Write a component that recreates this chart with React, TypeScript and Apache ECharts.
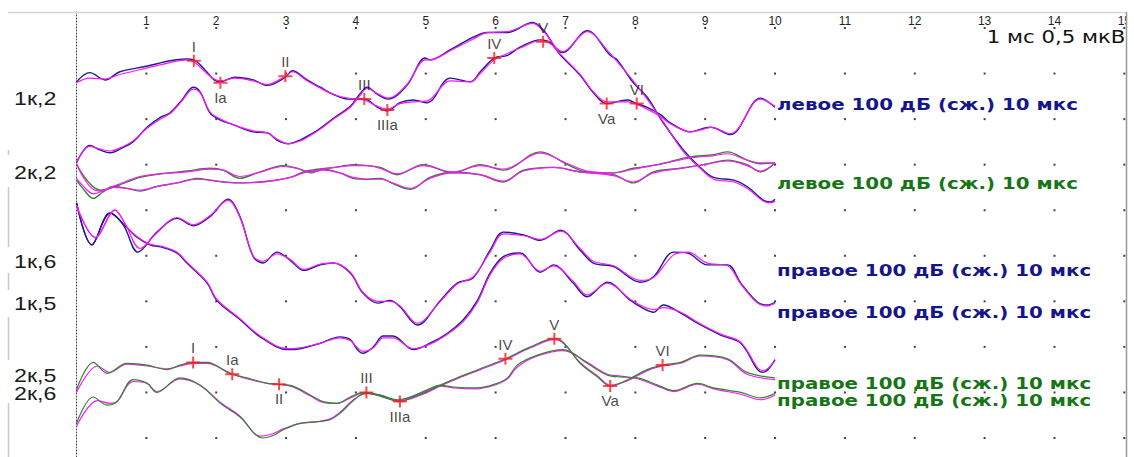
import React, { useEffect, useRef } from 'react';
import * as echarts from 'echarts';

// ---- axis / grid values ----
const msTicks = [1, 2, 3, 4, 5, 6, 7, 8, 9, 10, 11, 12, 13, 14, 15];
const uvRows = [0, 0.5, 1, 1.5, 2, 2.5, 3, 3.5, 4, 4.5];
const Y_MIN = -0.2085;
const Y_MAX = 4.6756;

// ---- traces: [ms, µV] ----
const topANavy = [[0,3.91],[0.19,4.01],[0.41,3.93],[0.62,4.02],[1.00,4.08],[1.34,4.14],[1.57,4.16],[1.68,4.15],[1.84,4.04],[1.97,3.93],[2.06,3.91],[2.27,3.96],[2.53,3.93],[2.73,3.87],[2.99,3.96],[3.09,4.03],[3.30,3.93],[3.49,3.85],[3.68,3.77],[3.88,3.72],[4.12,3.72],[4.31,3.63],[4.45,3.59],[4.63,3.68],[4.82,3.71],[5.02,3.68],[5.35,3.95],[5.64,3.91],[5.78,4.02],[5.98,4.17],[6.17,4.20],[6.35,4.29],[6.64,4.37],[6.78,4.34],[6.93,4.20],[7.21,3.98],[7.40,3.79],[7.59,3.67],[7.89,3.71],[8.02,3.67],[8.17,3.63],[8.36,3.55],[8.50,3.46],[8.79,3.36],[8.98,3.40],[9.08,3.41],[9.36,3.33],[9.79,3.73],[10.0,3.63]];
const topAMag = [[0,3.90],[0.19,3.95],[0.41,3.94],[0.62,3.99],[1.00,4.06],[1.34,4.12],[1.57,4.15],[1.68,4.13],[1.84,4.02],[1.97,3.94],[2.06,3.92],[2.27,3.95],[2.53,3.92],[2.73,3.88],[2.99,3.97],[3.09,4.02],[3.30,3.92],[3.49,3.84],[3.68,3.77],[3.88,3.73],[4.12,3.71],[4.31,3.64],[4.45,3.61],[4.63,3.67],[4.82,3.69],[5.02,3.70],[5.35,3.92],[5.64,3.91],[5.78,4.00],[5.98,4.15],[6.17,4.22],[6.35,4.28],[6.64,4.36],[6.78,4.33],[6.93,4.21],[7.21,3.99],[7.40,3.80],[7.59,3.69],[7.89,3.69],[8.02,3.66],[8.17,3.61],[8.36,3.53],[8.50,3.45],[8.79,3.36],[8.98,3.39],[9.08,3.41],[9.36,3.34],[9.79,3.72],[10.0,3.64]];
const topBNavy = [[0,3.02],[0.19,3.21],[0.34,3.16],[0.48,3.13],[0.67,3.19],[0.81,3.25],[1.01,3.41],[1.20,3.52],[1.34,3.57],[1.51,3.71],[1.67,3.85],[1.77,3.80],[1.91,3.57],[2.06,3.49],[2.24,3.44],[2.53,3.36],[2.73,3.35],[2.87,3.27],[3.03,3.23],[3.20,3.27],[3.39,3.35],[3.49,3.40],[3.68,3.51],[3.92,3.64],[4.06,3.78],[4.16,3.85],[4.31,3.77],[4.46,3.72],[4.73,3.87],[4.99,4.17],[5.06,4.15],[5.35,4.26],[5.68,4.40],[5.88,4.45],[6.17,4.45],[6.53,4.56],[6.68,4.48],[6.96,4.23],[7.31,4.47],[7.64,4.20],[7.74,4.15],[7.97,3.90],[8.17,3.74],[8.40,3.46],[8.69,3.16],[8.93,2.97],[9.12,2.86],[9.41,2.83],[9.60,2.76],[9.83,2.61],[9.93,2.59],[10.0,2.62]];
const topBMag = [[0,3.03],[0.19,3.20],[0.34,3.17],[0.48,3.15],[0.67,3.20],[0.81,3.26],[1.01,3.40],[1.20,3.50],[1.34,3.56],[1.51,3.70],[1.67,3.83],[1.77,3.79],[1.91,3.58],[2.06,3.50],[2.24,3.44],[2.53,3.37],[2.73,3.35],[2.87,3.28],[3.03,3.23],[3.20,3.26],[3.39,3.34],[3.49,3.39],[3.68,3.50],[3.92,3.63],[4.06,3.76],[4.16,3.84],[4.31,3.78],[4.46,3.73],[4.73,3.88],[4.99,4.15],[5.06,4.15],[5.35,4.25],[5.68,4.38],[5.88,4.45],[6.17,4.46],[6.53,4.55],[6.68,4.47],[6.96,4.24],[7.31,4.46],[7.64,4.22],[7.74,4.13],[7.97,3.92],[8.17,3.72],[8.40,3.47],[8.69,3.14],[8.93,2.96],[9.12,2.84],[9.41,2.81],[9.60,2.74],[9.83,2.60],[9.93,2.58],[10.0,2.60]];

const grnCGreen = [[0,3.01],[0.09,2.89],[0.22,2.77],[0.34,2.72],[0.48,2.74],[0.69,2.80],[0.91,2.86],[1.20,2.90],[1.58,2.93],[1.91,2.96],[2.10,2.94],[2.34,2.85],[2.59,2.91],[2.96,2.99],[3.16,2.96],[3.35,2.91],[3.53,2.95],[3.77,2.91],[3.96,2.85],[4.16,2.84],[4.35,2.85],[4.56,2.78],[4.78,2.73],[5.06,2.86],[5.39,2.92],[5.78,2.89],[6.11,2.81],[6.40,2.94],[6.83,2.97],[7.21,2.92],[7.69,2.89],[7.97,2.80],[8.26,2.92],[8.65,2.96],[8.98,3.00],[9.32,3.05],[9.60,3.00],[9.79,2.92],[10.0,3.02]];
const grnCMag = [[0,3.01],[0.09,2.87],[0.22,2.74],[0.34,2.71],[0.48,2.75],[0.69,2.81],[0.91,2.87],[1.20,2.90],[1.58,2.92],[1.91,2.95],[2.10,2.94],[2.34,2.87],[2.59,2.91],[2.96,2.98],[3.16,2.96],[3.35,2.92],[3.53,2.94],[3.77,2.91],[3.96,2.86],[4.16,2.84],[4.35,2.84],[4.56,2.79],[4.78,2.74],[5.06,2.85],[5.39,2.91],[5.78,2.89],[6.11,2.82],[6.40,2.93],[6.83,2.97],[7.21,2.92],[7.69,2.88],[7.97,2.81],[8.26,2.91],[8.65,2.96],[8.98,3.00],[9.32,3.04],[9.60,2.99],[9.79,2.93],[10.0,3.02]];
const grnDGreen = [[0,2.83],[0.09,2.74],[0.24,2.63],[0.38,2.70],[0.52,2.76],[0.72,2.74],[0.91,2.71],[1.15,2.76],[1.44,2.80],[1.73,2.85],[1.91,2.83],[2.10,2.81],[2.39,2.80],[2.77,2.82],[3.06,2.86],[3.25,2.92],[3.45,2.95],[3.70,2.97],[3.96,3.00],[4.16,2.99],[4.35,2.97],[4.59,2.89],[4.96,3.00],[5.39,2.91],[5.78,3.00],[6.11,2.94],[6.64,3.14],[7.03,3.00],[7.31,2.92],[7.69,2.91],[7.97,2.96],[8.32,3.00],[8.75,3.08],[9.12,3.11],[9.32,3.14],[9.60,3.05],[9.79,3.01],[10.0,3.02]];
const grnDMag = [[0,2.85],[0.09,2.77],[0.24,2.68],[0.38,2.71],[0.52,2.75],[0.72,2.74],[0.91,2.72],[1.15,2.76],[1.44,2.80],[1.73,2.84],[1.91,2.83],[2.10,2.81],[2.39,2.80],[2.77,2.82],[3.06,2.86],[3.25,2.91],[3.45,2.94],[3.70,2.97],[3.96,2.99],[4.16,2.99],[4.35,2.96],[4.59,2.90],[4.96,2.99],[5.39,2.92],[5.78,2.99],[6.11,2.95],[6.64,3.13],[7.03,3.01],[7.31,2.93],[7.69,2.91],[7.97,2.95],[8.32,3.00],[8.75,3.07],[9.12,3.10],[9.32,3.12],[9.60,3.05],[9.79,3.02],[10.0,3.02]];

const midGNavy = [[0,2.58],[0.22,2.12],[0.48,2.47],[0.67,2.34],[0.88,2.04],[1.15,2.26],[1.44,2.41],[1.67,2.33],[1.91,2.43],[2.17,2.62],[2.34,2.43],[2.53,1.99],[2.67,1.92],[2.87,2.04],[3.06,1.95],[3.25,1.84],[3.49,1.90],[3.68,1.92],[3.92,1.81],[4.10,1.59],[4.31,1.48],[4.49,1.51],[4.63,1.44],[4.88,1.24],[5.21,1.51],[5.45,1.70],[5.68,1.76],[5.92,2.06],[6.11,2.26],[6.40,2.23],[6.64,2.17],[6.93,2.28],[7.21,2.06],[7.40,1.92],[7.69,1.88],[8.07,1.71],[8.26,1.77],[8.55,2.04],[8.75,2.03],[9.03,1.90],[9.32,1.90],[9.51,1.70],[9.75,1.49],[9.89,1.46],[10.0,1.49]];
const midGMag = [[0,2.55],[0.27,2.20],[0.55,2.50],[0.69,2.36],[0.91,2.08],[1.15,2.25],[1.44,2.42],[1.67,2.34],[1.91,2.44],[2.17,2.61],[2.34,2.42],[2.53,2.00],[2.67,1.94],[2.87,2.02],[3.06,1.96],[3.25,1.85],[3.49,1.91],[3.68,1.92],[3.92,1.82],[4.10,1.60],[4.31,1.50],[4.49,1.50],[4.63,1.45],[4.88,1.26],[5.21,1.50],[5.45,1.69],[5.68,1.77],[5.92,2.04],[6.11,2.24],[6.40,2.22],[6.64,2.18],[6.93,2.27],[7.21,2.08],[7.40,1.94],[7.69,1.89],[8.07,1.73],[8.26,1.76],[8.55,2.01],[8.75,2.04],[9.03,1.92],[9.32,1.89],[9.51,1.69],[9.75,1.48],[9.89,1.45],[10.0,1.48]];
const midHNavy = [[0,2.58],[0.22,2.12],[0.48,2.47],[0.72,2.31],[0.87,2.20],[1.05,2.12],[1.24,2.09],[1.44,2.03],[1.58,1.92],[1.87,1.70],[2.01,1.51],[2.34,1.30],[2.63,1.11],[3.02,0.97],[3.20,0.98],[3.49,1.04],[3.77,1.11],[3.92,1.08],[4.02,0.97],[4.10,0.93],[4.25,1.00],[4.39,1.12],[4.53,1.12],[4.82,0.97],[5.06,1.04],[5.31,1.15],[5.54,1.30],[5.74,1.51],[5.92,1.81],[6.11,1.99],[6.35,2.03],[6.64,1.82],[6.83,1.90],[7.11,1.70],[7.31,1.55],[7.60,1.71],[7.93,1.51],[8.12,1.42],[8.26,1.38],[8.40,1.46],[8.65,1.37],[8.89,1.26],[9.22,1.13],[9.51,1.04],[9.75,0.75],[9.83,0.72],[10.0,0.86]];
const midHMag = [[0,2.55],[0.27,2.20],[0.55,2.50],[0.74,2.30],[0.87,2.21],[1.05,2.13],[1.24,2.10],[1.44,2.04],[1.58,1.93],[1.87,1.71],[2.01,1.52],[2.34,1.31],[2.63,1.12],[3.02,0.98],[3.20,0.99],[3.49,1.04],[3.77,1.10],[3.92,1.07],[4.02,0.99],[4.10,0.95],[4.25,0.99],[4.39,1.10],[4.53,1.10],[4.82,0.98],[5.06,1.03],[5.31,1.14],[5.54,1.28],[5.74,1.49],[5.92,1.79],[6.11,1.97],[6.35,2.02],[6.64,1.83],[6.83,1.89],[7.11,1.72],[7.31,1.57],[7.60,1.70],[7.93,1.52],[8.12,1.44],[8.26,1.41],[8.40,1.43],[8.65,1.38],[8.89,1.27],[9.22,1.14],[9.51,1.05],[9.75,0.77],[9.83,0.74],[10.0,0.85]];

const botEGreen = [[0,0.53],[0.24,0.83],[0.44,0.71],[0.72,0.82],[1.01,0.80],[1.30,0.75],[1.48,0.80],[1.67,0.83],[1.87,0.83],[2.16,0.72],[2.23,0.70],[2.44,0.66],[2.73,0.60],[2.90,0.59],[3.10,0.57],[3.35,0.47],[3.53,0.40],[3.73,0.38],[3.92,0.45],[4.13,0.50],[4.35,0.46],[4.63,0.40],[4.78,0.44],[4.96,0.49],[5.21,0.58],[5.45,0.66],[5.78,0.76],[6.14,0.87],[6.50,1.00],[6.84,1.09],[6.97,1.05],[7.21,0.82],[7.46,0.67],[7.64,0.57],[7.89,0.64],[8.17,0.75],[8.39,0.80],[8.65,0.83],[8.93,0.91],[9.32,0.87],[9.60,0.72],[10.0,0.66]];
const botEMag = [[0,0.50],[0.30,0.79],[0.48,0.72],[0.72,0.81],[1.01,0.79],[1.30,0.76],[1.48,0.79],[1.67,0.82],[1.87,0.82],[2.16,0.73],[2.23,0.70],[2.44,0.65],[2.73,0.60],[2.90,0.59],[3.10,0.56],[3.35,0.46],[3.53,0.39],[3.73,0.38],[3.92,0.44],[4.13,0.50],[4.35,0.47],[4.63,0.41],[4.78,0.43],[4.96,0.48],[5.21,0.57],[5.45,0.65],[5.78,0.75],[6.14,0.86],[6.50,0.99],[6.84,1.08],[6.97,1.04],[7.21,0.83],[7.46,0.68],[7.64,0.58],[7.89,0.63],[8.17,0.74],[8.39,0.79],[8.65,0.82],[8.93,0.90],[9.32,0.86],[9.60,0.70],[10.0,0.64]];
const botFGreen = [[0,0.16],[0.24,0.45],[0.44,0.36],[0.58,0.40],[0.81,0.64],[1.01,0.60],[1.15,0.50],[1.48,0.66],[1.77,0.58],[2.06,0.38],[2.34,0.23],[2.67,0.00],[2.82,0.03],[2.96,0.09],[3.20,0.16],[3.45,0.18],[3.63,0.20],[3.77,0.27],[3.92,0.38],[4.06,0.47],[4.16,0.49],[4.35,0.47],[4.59,0.42],[4.78,0.45],[5.02,0.53],[5.21,0.58],[5.39,0.56],[5.74,0.55],[6.02,0.60],[6.17,0.66],[6.31,0.80],[6.60,0.91],[6.97,0.97],[7.31,0.82],[7.60,0.69],[7.79,0.67],[8.03,0.66],[8.32,0.58],[8.55,0.52],[8.89,0.60],[9.12,0.55],[9.51,0.50],[9.79,0.44],[10.0,0.49]];
const botFMag = [[0,0.13],[0.30,0.41],[0.48,0.38],[0.58,0.40],[0.81,0.62],[1.01,0.60],[1.15,0.51],[1.48,0.65],[1.77,0.58],[2.06,0.39],[2.34,0.24],[2.63,0.02],[2.82,0.05],[2.96,0.10],[3.20,0.16],[3.45,0.18],[3.63,0.21],[3.77,0.28],[3.92,0.39],[4.06,0.47],[4.16,0.49],[4.35,0.46],[4.59,0.41],[4.78,0.45],[5.02,0.52],[5.21,0.57],[5.39,0.55],[5.74,0.54],[6.02,0.59],[6.17,0.65],[6.31,0.78],[6.60,0.90],[6.97,0.96],[7.31,0.83],[7.60,0.70],[7.79,0.68],[8.03,0.65],[8.32,0.57],[8.55,0.51],[8.89,0.59],[9.12,0.54],[9.51,0.48],[9.79,0.42],[10.0,0.47]];

// ---- peak markers ----
const peakNames = ['I', 'Ia', 'II', 'III', 'IIIa', 'IV', 'V', 'Va', 'VI'];
const topPeakMs = [1.68, 2.06, 2.99, 4.12, 4.45, 5.98, 6.68, 7.59, 8.02];
const topPeakUv = [4.14, 3.90, 3.97, 3.72, 3.60, 4.17, 4.35, 3.67, 3.67];
const topPeakSide = ['top', 'bottom', 'top', 'top', 'bottom', 'top', 'top', 'bottom', 'top'];
const botPeakMs = [1.67, 2.23, 2.90, 4.15, 4.63, 6.14, 6.84, 7.64, 8.39];
const botPeakUv = [0.83, 0.70, 0.59, 0.50, 0.40, 0.87, 1.09, 0.57, 0.80];
const botPeakSide = ['top', 'top', 'bottom', 'top', 'bottom', 'top', 'top', 'bottom', 'top'];

// ---- trace labels ----
const leftLabels = ['1к,2', '2к,2', '1к,6', '1к,5', '2к,5', '2к,6'];
const leftLabelUv = [3.73, 2.92, 1.94, 1.48, 0.69, 0.49];
const rightLabels = ['левое 100 дБ (сж.) 10 мкс', 'левое 100 дБ (сж.) 10 мкс', 'правое 100 дБ (сж.) 10 мкс', 'правое 100 дБ (сж.) 10 мкс', 'правое 100 дБ (сж.) 10 мкс', 'правое 100 дБ (сж.) 10 мкс'];
const rightLabelUv = [3.66, 2.80, 1.84, 1.38, 0.60, 0.42];
const rightLabelKind = ['navy', 'green', 'navy', 'navy', 'green', 'green'];
const scaleText = '1 мс 0,5 мкВ';
const scaleTextPos = [15, 4.40];

const NAVY = '#1c1c8c';
const MAG = '#ff14ff';
const GREEN = '#2f862f';
const LABEL_NAVY = '#16168a';
const LABEL_GREEN = '#167616';

function lineSeries(data: number[][], color: string, z: number, width: number) {
  return {
    type: 'line', data, smooth: 0.35, showSymbol: false, symbol: 'none', silent: true, clip: false, z,
    lineStyle: { color, width }, itemStyle: { color },
  };
}

function peakSeries(ms: number[], uv: number[], side: string[]) {
  return {
    type: 'scatter', silent: true, z: 6, clip: false,
    symbol: 'path://M0,5H6V0H8V5H14V7H8V12H6V7H0Z',
    symbolSize: [14, 12],
    itemStyle: { color: '#ff1a1a' },
    data: peakNames.map((n, i) => ({
      name: n, value: [ms[i], uv[i]],
      label: { position: side[i] },
    })),
    label: {
      show: true, formatter: (p: any) => p.name, distance: 1,
      fontFamily: 'Liberation Sans', fontSize: 15, color: '#151515',
    },
  };
}

export default function App() {
  const ref = useRef<HTMLDivElement>(null);
  useEffect(() => {
    document.body.style.margin = '0';
    const chart = echarts.init(ref.current!, null, { renderer: 'svg' });
    const dots: number[][] = [];
    msTicks.forEach((x) => uvRows.forEach((y) => dots.push([x, y])));
    chart.setOption({
      animation: false,
      backgroundColor: '#ffffff',
      grid: { left: 76.5, right: 9.5, top: 12, bottom: 0 },
      xAxis: {
        type: 'value', min: 0, max: 15, interval: 1, position: 'top',
        axisLine: { show: false }, axisTick: { show: false }, splitLine: { show: false },
        axisLabel: {
          inside: true, margin: 3, fontSize: 12, color: '#222', fontFamily: 'Liberation Sans',
          formatter: (v: number) => (v === 0 ? '' : String(v)), showMaxLabel: true,
        },
      },
      yAxis: {
        type: 'value', min: Y_MIN, max: Y_MAX,
        axisLine: { show: true, lineStyle: { type: [1, 2], color: '#444', width: 1 } },
        axisTick: { show: false }, axisLabel: { show: false }, splitLine: { show: false },
      },
      series: [
        { type: 'scatter', data: dots, symbol: 'rect', symbolSize: 2, itemStyle: { color: '#111' }, silent: true, z: 1 },
        lineSeries(topANavy, NAVY, 2, 1.4), lineSeries(topAMag, MAG, 3, 1.2),
        lineSeries(topBNavy, NAVY, 2, 1.4), lineSeries(topBMag, MAG, 3, 1.2),
        lineSeries(grnCGreen, GREEN, 2, 1.4), lineSeries(grnCMag, MAG, 3, 1.2),
        lineSeries(grnDGreen, GREEN, 2, 1.4), lineSeries(grnDMag, MAG, 3, 1.2),
        lineSeries(midGNavy, NAVY, 2, 1.4), lineSeries(midGMag, MAG, 3, 1.2),
        lineSeries(midHNavy, NAVY, 2, 1.4), lineSeries(midHMag, MAG, 3, 1.2),
        lineSeries(botEMag, MAG, 3, 1.2), lineSeries(botEGreen, GREEN, 4, 1.2),
        lineSeries(botFMag, MAG, 3, 1.2), lineSeries(botFGreen, GREEN, 4, 1.2),
        peakSeries(topPeakMs, topPeakUv, topPeakSide),
        peakSeries(botPeakMs, botPeakUv, botPeakSide),
      ],
    });

    const px = (x: number, y: number) => chart.convertToPixel({ gridIndex: 0 }, [x, y]) as number[];
    const graphic: any[] = [];
    // frame
    const frameColor = '#c9c9c9';
    graphic.push({ type: 'line', shape: { x1: 8, y1: 12.5, x2: 1126, y2: 12.5 }, style: { stroke: '#d6d6d6', lineWidth: 1.5 }, z: 10 });
    graphic.push({ type: 'rect', shape: { x: 1127, y: 0, width: 10, height: 460 }, style: { fill: '#fff' }, z: 20 });
    graphic.push({ type: 'line', shape: { x1: 1126.5, y1: 12, x2: 1126.5, y2: 457 }, style: { stroke: '#999', lineWidth: 1.5 }, z: 21 });
    [[150, 155], [187, 247], [273, 290], [317, 360], [403, 457]].forEach(([a, b]) => {
      graphic.push({ type: 'line', shape: { x1: 8.5, y1: a, x2: 8.5, y2: b }, style: { stroke: frameColor, lineWidth: 1.5 }, z: 10 });
    });
    leftLabels.forEach((t, i) => {
      const p = px(0, leftLabelUv[i]);
      graphic.push({
        type: 'text', x: 14, y: p[1], scaleX: 1.22, z: 12,
        style: { text: t, x: 0, y: 0, fill: '#1a1a1a', font: '19px "Liberation Sans"', verticalAlign: 'middle', align: 'left' },
      });
    });
    rightLabels.forEach((t, i) => {
      const p = px(10, rightLabelUv[i]);
      graphic.push({
        type: 'text', x: p[0] + 2, y: p[1], scaleX: 1.24, z: 12,
        style: {
          text: t, x: 0, y: 0, fill: rightLabelKind[i] === 'navy' ? LABEL_NAVY : LABEL_GREEN,
          font: 'bold 16px "DejaVu Sans"', verticalAlign: 'middle', align: 'left',
        },
      });
    });
    const sp = px(scaleTextPos[0], scaleTextPos[1]);
    graphic.push({
      type: 'text', x: sp[0] + 1, y: sp[1], scaleX: 1.18, z: 12,
      style: { text: scaleText, x: 0, y: 0, fill: '#111', font: '18px "DejaVu Sans"', verticalAlign: 'middle', align: 'right' },
    });
    chart.setOption({ graphic });
    return () => chart.dispose();
  }, []);
  return <div ref={ref} style={{ width: 1134, height: 457 }} />;
}
